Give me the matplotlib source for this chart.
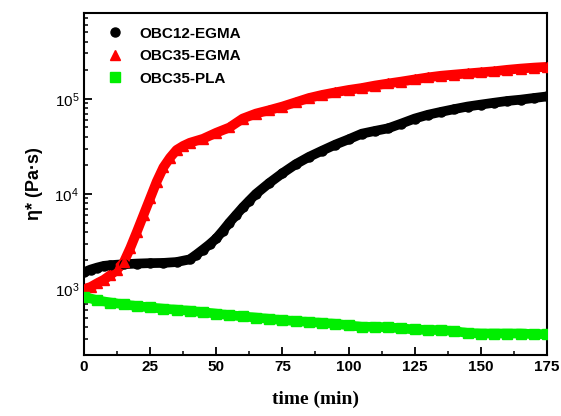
import matplotlib
matplotlib.use("Agg")
import matplotlib.pyplot as plt
from matplotlib.ticker import MultipleLocator, LogLocator, NullFormatter

plt.rcParams['font.family'] = ['Liberation Sans', 'DejaVu Sans']
plt.rcParams['mathtext.fontset'] = 'custom'
plt.rcParams['mathtext.rm'] = 'Liberation Sans'
plt.rcParams['mathtext.bf'] = 'Liberation Sans:bold'

t_red = [0, 2.5, 5, 7.5, 10, 12.5, 15, 17.5, 20, 22.5, 25, 27.5, 30, 32.5, 35, 37.5, 40,
         45, 50, 55, 60, 65, 70, 75, 80, 85, 90, 95, 100, 105, 110, 115, 120, 125, 130,
         135, 140, 145, 150, 155, 160, 165, 170, 175]
v_red = [1.0e3, 1.05e3, 1.15e3, 1.25e3, 1.4e3, 1.6e3, 1.9e3, 2.7e3, 4.0e3, 6.0e3, 9.0e3,
         1.35e4, 1.9e4, 2.4e4, 2.9e4, 3.2e4, 3.45e4,
         3.8e4, 4.4e4, 5.0e4, 6.2e4, 7.0e4, 7.6e4, 8.3e4, 9.2e4, 1.02e5, 1.1e5, 1.17e5,
         1.24e5, 1.3e5, 1.38e5, 1.45e5, 1.52e5, 1.6e5, 1.68e5, 1.75e5, 1.8e5, 1.85e5,
         1.9e5, 1.95e5, 2.02e5, 2.08e5, 2.13e5, 2.17e5]

t_black = [0, 2.5, 5, 7.5, 10, 15, 20, 25, 30, 35, 40, 42.5, 45, 47.5, 50, 52.5, 55, 57.5,
           60, 62.5, 65, 70, 75, 80, 85, 90, 95, 100, 105, 110, 115, 120, 125, 130, 135,
           140, 145, 150, 155, 160, 165, 170, 175]
v_black = [1.5e3, 1.6e3, 1.68e3, 1.75e3, 1.78e3, 1.82e3, 1.85e3, 1.87e3, 1.88e3, 1.92e3,
           2.05e3, 2.3e3, 2.6e3, 2.95e3, 3.4e3, 4.1e3, 5.0e3, 6.0e3, 7.2e3, 8.5e3, 1.0e4,
           1.3e4, 1.65e4, 2.05e4, 2.45e4, 2.85e4, 3.3e4, 3.75e4, 4.3e4, 4.6e4, 4.9e4,
           5.5e4, 6.2e4, 6.8e4, 7.3e4, 7.8e4, 8.3e4, 8.7e4, 9.1e4, 9.5e4, 9.8e4, 1.02e5,
           1.06e5]

t_green = [0, 5, 10, 15, 20, 25, 30, 35, 40, 45, 50, 55, 60, 65, 70, 75, 80, 85, 90, 95,
           100, 105, 110, 115, 120, 125, 130, 135, 140, 145, 150, 155, 160, 165, 170, 175]
v_green = [830, 760, 720, 690, 660, 640, 620, 605, 590, 570, 550, 530, 515, 500, 485, 470,
           460, 450, 440, 430, 415, 400, 400, 395, 385, 375, 370, 370, 360, 345, 340, 340,
           340, 340, 335, 335]

labels = ['OBC12-EGMA', 'OBC35-EGMA', 'OBC35-PLA']
colors = ['#000000', '#ff0000', '#00ee00']
markers = ['o', '^', 's']

fig = plt.figure(figsize=(5.61, 4.16), dpi=100)
ax = fig.add_axes([0.1497, 0.1466, 0.8253, 0.8222])

series = [(t_black, v_black), (t_red, v_red), (t_green, v_green)]
handles = []
for (t, v), lab, c, m in zip(series, labels, colors, markers):
    ax.plot(t, v, '-', color=c, lw=7, solid_capstyle='butt', zorder=2)
    h, = ax.plot(t, v, linestyle='none', marker=m, color=c, ms=6.5, mec=c, label=lab, zorder=3)
    handles.append(h)

ax.set_yscale('log')
ax.set_xlim(0, 175)
ax.set_ylim(202, 8.0e5)
ax.xaxis.set_major_locator(MultipleLocator(25))
ax.xaxis.set_minor_locator(MultipleLocator(12.5))
ax.yaxis.set_major_locator(LogLocator(base=10, numticks=10))
ax.yaxis.set_minor_locator(LogLocator(base=10, subs=range(2, 10), numticks=20))
ax.yaxis.set_minor_formatter(NullFormatter())

ax.tick_params(axis='both', which='major', direction='in', length=6, width=1.3,
               labelsize=11, top=False, right=False)
ax.tick_params(axis='both', which='minor', direction='in', length=3, width=1.1,
               top=False, right=False)
for lbl in ax.get_xticklabels():
    lbl.set_fontweight('bold')
for s in ax.spines.values():
    s.set_linewidth(1.5)

ax.set_xlabel('time (min)', family=['Liberation Serif'], fontweight='bold', fontsize=14,
              labelpad=12)
ax.set_ylabel('η* (Pa·s)', fontweight='bold', fontsize=13, labelpad=8)

leg = ax.legend(handles=handles, loc='upper left', frameon=False,
                prop={'weight': 'bold', 'size': 11}, handlelength=1.0,
                handletextpad=1.1, borderaxespad=0.5, labelspacing=0.55,
                bbox_to_anchor=(0.02, 1.0))

fig.savefig('out.png', dpi=100)
